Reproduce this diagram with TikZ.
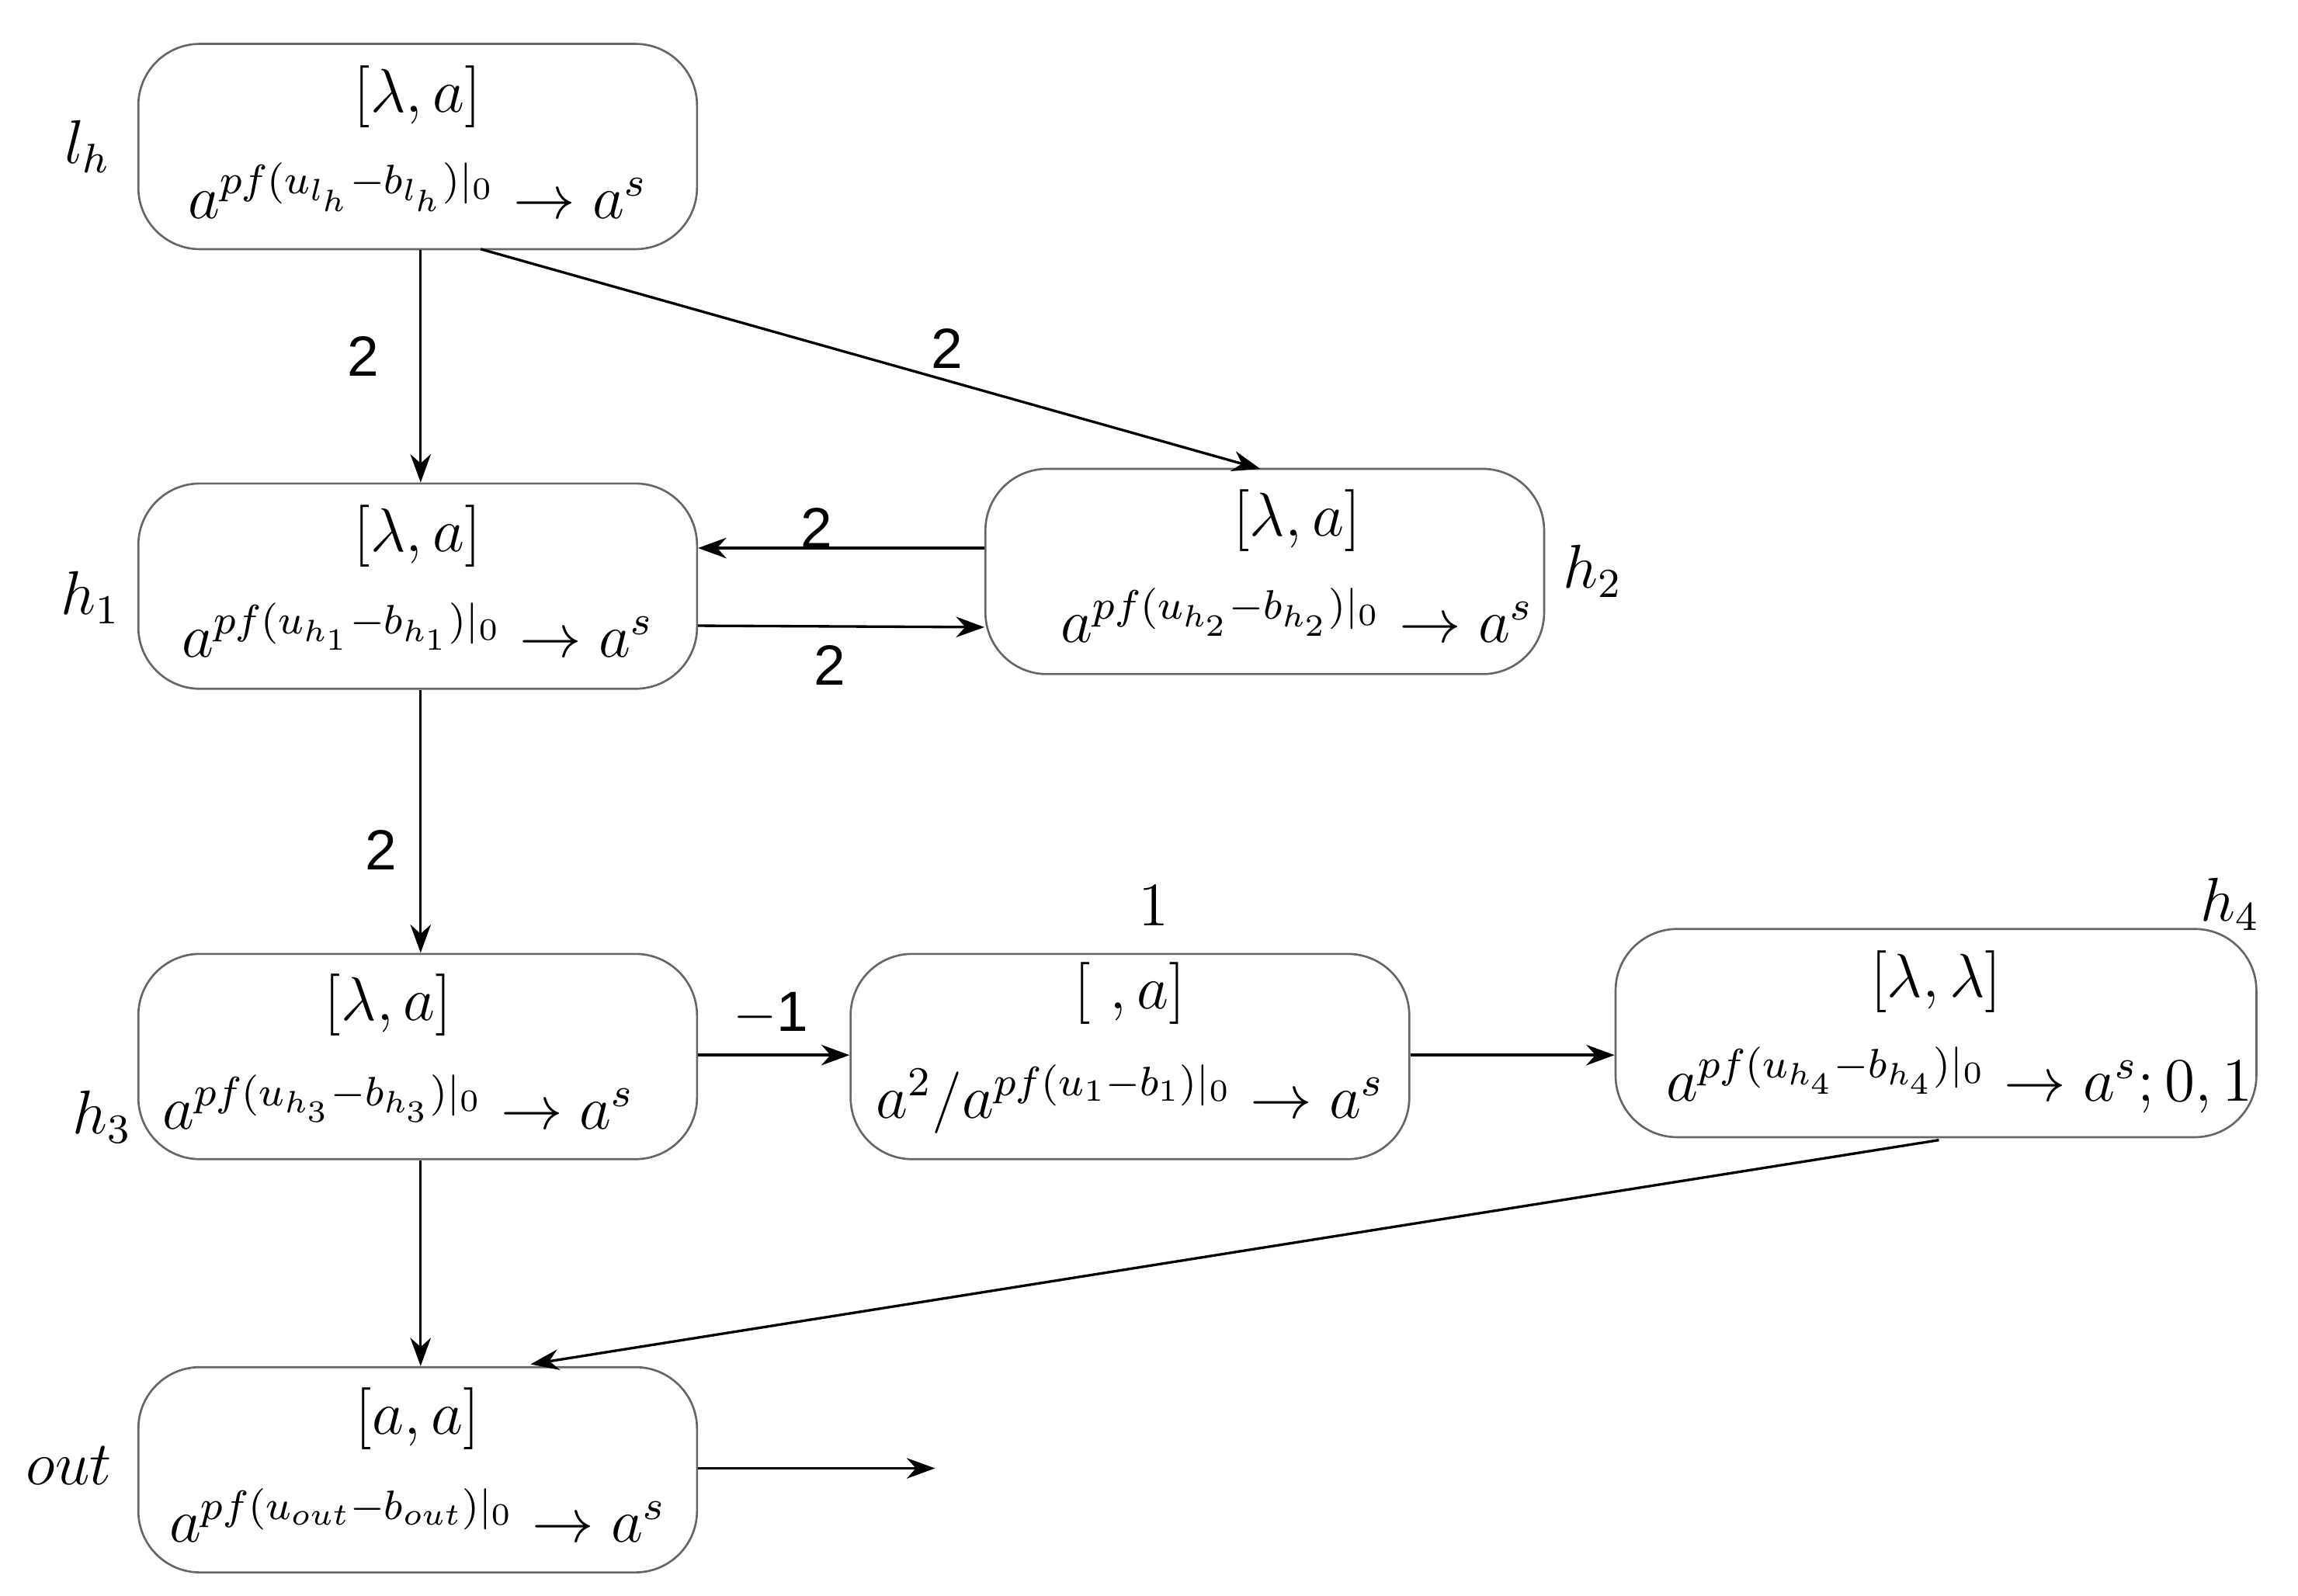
\documentclass[tikz,border=0pt]{standalone}
\usepackage{fontspec}
\setmainfont{Liberation Sans}
\usetikzlibrary{arrows.meta}
\begin{document}
\begin{tikzpicture}[x=0.01cm,y=-0.01cm,
  box/.style={draw,rounded corners=0.42cm,minimum width=3.81cm,minimum height=1.40cm,inner sep=0pt,line width=0.4pt,gray!80!black},
  t1/.style={font=\fontsize{13}{15}\selectfont,text=black},
  t2/.style={font=\fontsize{11.5}{14}\selectfont,text=black},
  lab/.style={font=\fontsize{12}{14}\selectfont},
  num/.style={font=\fontsize{11}{13}\selectfont},
  arr/.style={-{Stealth[length=5.5pt,width=4pt]},line width=0.5pt}]
\useasboundingbox (0,0) rectangle (1568,1089);
\node[box] (lh) at (285,100) {};
\node[t1] at (285,66) {$[\lambda,a]$};
\node[t2] at (285,130) {$a^{pf(u_{l_h}-b_{l_h})|_0}\rightarrow a^s$};
\node[box] (h1) at (285,400) {};
\node[t1] at (285,366) {$[\lambda,a]$};
\node[t2] at (285,430) {$a^{pf(u_{h_1}-b_{h_1})|_0}\rightarrow a^s$};
\node[box] (h2) at (863,390) {};
\node[t1] at (885,355) {$[\lambda,a]$};
\node[t2] at (885,420) {$a^{pf(u_{h_2}-b_{h_2})|_0}\rightarrow a^s$};
\node[box] (h3) at (285,721) {};
\node[t1] at (265,686) {$[\lambda,a]$};
\node[t2] at (272,752) {$a^{pf(u_{h_3}-b_{h_3})|_0}\rightarrow a^s$};
\node[box] (m) at (771,721) {};
\node[t1] at (771,678) {$[\ ,a]$};
\node[t2] at (771,750) {$a^2\big/a^{pf(u_1-b_1)|_0}\rightarrow a^s$};
\node[box,minimum width=4.37cm,minimum height=1.42cm] (h4) at (1321,705) {};
\node[t1] at (1321,670) {$[\lambda,\lambda]$};
\node[t2] at (1337,737) {$a^{pf(u_{h_4}-b_{h_4})|_0}\rightarrow a^s;0,1$};
\node[box] (out) at (285,1003) {};
\node[t1] at (285,968) {$[a,a]$};
\node[t2] at (285,1034) {$a^{pf(u_{out}-b_{out})|_0}\rightarrow a^s$};
\node[lab] (llh) at (60,100) {$l_h$};
\node[lab] (lh1) at (62,408) {$h_1$};
\node[lab] (lh2) at (1087,390) {$h_2$};
\node[lab] (lh3) at (70,762) {$h_3$};
\node[lab] (lh4) at (1522,617) {$h_4$};
\node[lab] (lout) at (47,1000) {$out$};
\node[t1] (one) at (787,618) {$1$};
\draw[arr] (lh.south -| 287,0) -- (h1.north -| 287,0);
\node[num] at (248,243) {2};
\draw[arr] (328,170) -- (860,320);
\node[num] at (646,238) {2};
\draw[arr] (h2.west |- 0,374) -- (h1.east |- 0,374);
\node[num] at (557,360) {2};
\draw[arr] (h1.east |- 0,427) -- (h2.west |- 0,428);
\node[num] at (566,454) {2};
\draw[arr] (h1.south -| 287,0) -- (h3.north -| 287,0);
\node[num] at (260,580) {2};
\draw[arr] (h3.east |- 0,720) -- (m.west |- 0,720);
\node[num] at (526,692) {$-$1};
\draw[arr] (m.east |- 0,720) -- (h4.west |- 0,720);
\draw[arr] (1323,778) -- (362,931);
\draw[arr] (h3.south -| 287,0) -- (out.north -| 287,0);
\coordinate (end) at (638,1002);
\draw[arr] (out.east |- 0,1002) -- (end);
\end{tikzpicture}
\end{document}
